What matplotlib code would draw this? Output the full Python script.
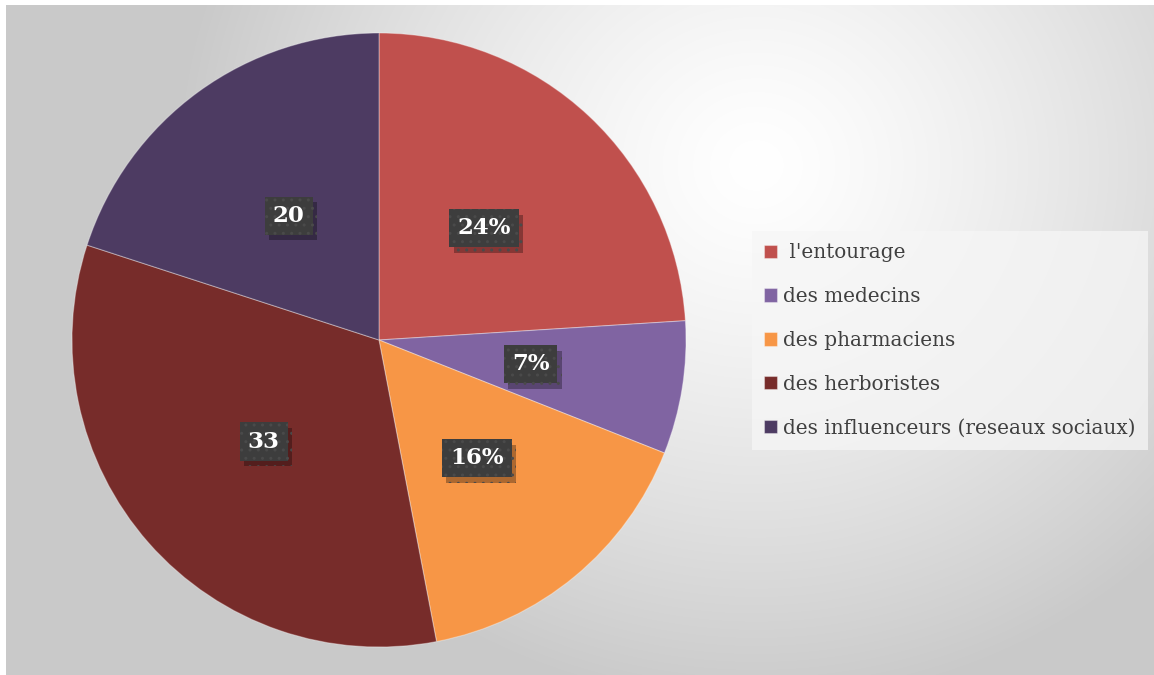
import numpy as np
import matplotlib
matplotlib.use("Agg")
import matplotlib.pyplot as plt
import matplotlib.patheffects as pe

# data
categories = [" l'entourage", "des medecins", "des pharmaciens",
              "des herboristes", "des influenceurs (reseaux sociaux)"]
values = [24, 7, 16, 33, 20]
slice_labels = ["24%", "7%", "16%", "33", "20"]
colors = ["#C0504D", "#8064A2", "#F79646", "#772C2A", "#4D3B62"]

W, H = 1154, 675
fig = plt.figure(figsize=(W / 100, H / 100), dpi=100)
fig.patch.set_facecolor("white")

# background: soft radial gradient, bright near upper right
bg = fig.add_axes([6 / W, 0, (W - 6) / W, (H - 5) / H])
yy, xx = np.mgrid[0:H - 5, 0:W - 6]
d = np.sqrt(((xx - 750) / 580.0) ** 2 + ((yy - 160) / 540.0) ** 2)
shade = 1.0 - 0.21 * np.clip(d, 0, 1.0) ** 1.3
bg.imshow(np.dstack([shade] * 3), aspect="auto", interpolation="bilinear")
bg.set_axis_off()

# pie axes, placed in pixels: centre (379, 340), radius 307
cx, cy, r = 379, 340, 307
pad = 1.02
ax = fig.add_axes([(cx - r * pad) / W, (H - cy - r * pad) / H,
                   2 * r * pad / W, 2 * r * pad / H])
wedges, _ = ax.pie(values, colors=colors, startangle=90, counterclock=False,
                   wedgeprops=dict(edgecolor=(1, 1, 1, 0.35), linewidth=0.8))
ax.set_xlim(-pad, pad)
ax.set_ylim(-pad, pad)
ax.set_aspect("equal")
ax.set_axis_off()

# dark dotted boxes with a soft drop shadow
box_style = dict(boxstyle="square,pad=0.35", facecolor="#3d3d3d",
                 edgecolor="#4a4a4a", linewidth=0, hatch="..")
for w, txt in zip(wedges, slice_labels):
    theta = np.deg2rad((w.theta1 + w.theta2) / 2)
    x, y = 0.5 * np.cos(theta), 0.5 * np.sin(theta)
    t = ax.text(x, y, txt, ha="center", va="center", fontsize=16.5,
                fontweight="bold", family="DejaVu Serif", color="white",
                bbox=box_style, zorder=4)
    t.get_bbox_patch().set_path_effects([
        pe.SimplePatchShadow(offset=(3, -4), shadow_rgbFace="black", alpha=0.3),
        pe.Normal()])

leg = ax.legend(wedges, categories, loc="upper left",
                bbox_to_anchor=(752 / W, 1 - 231 / H), bbox_transform=fig.transFigure,
                borderaxespad=0, frameon=True, fancybox=False,
                facecolor="#f6f6f6", edgecolor="none", framealpha=0.75,
                prop=dict(family="DejaVu Serif", size=14.4),
                handlelength=0.65, handleheight=0.65, handletextpad=0.3,
                labelspacing=1.24, borderpad=0.62)
for t in leg.get_texts():
    t.set_color("#404040")

fig.savefig("out.png", dpi=100)
